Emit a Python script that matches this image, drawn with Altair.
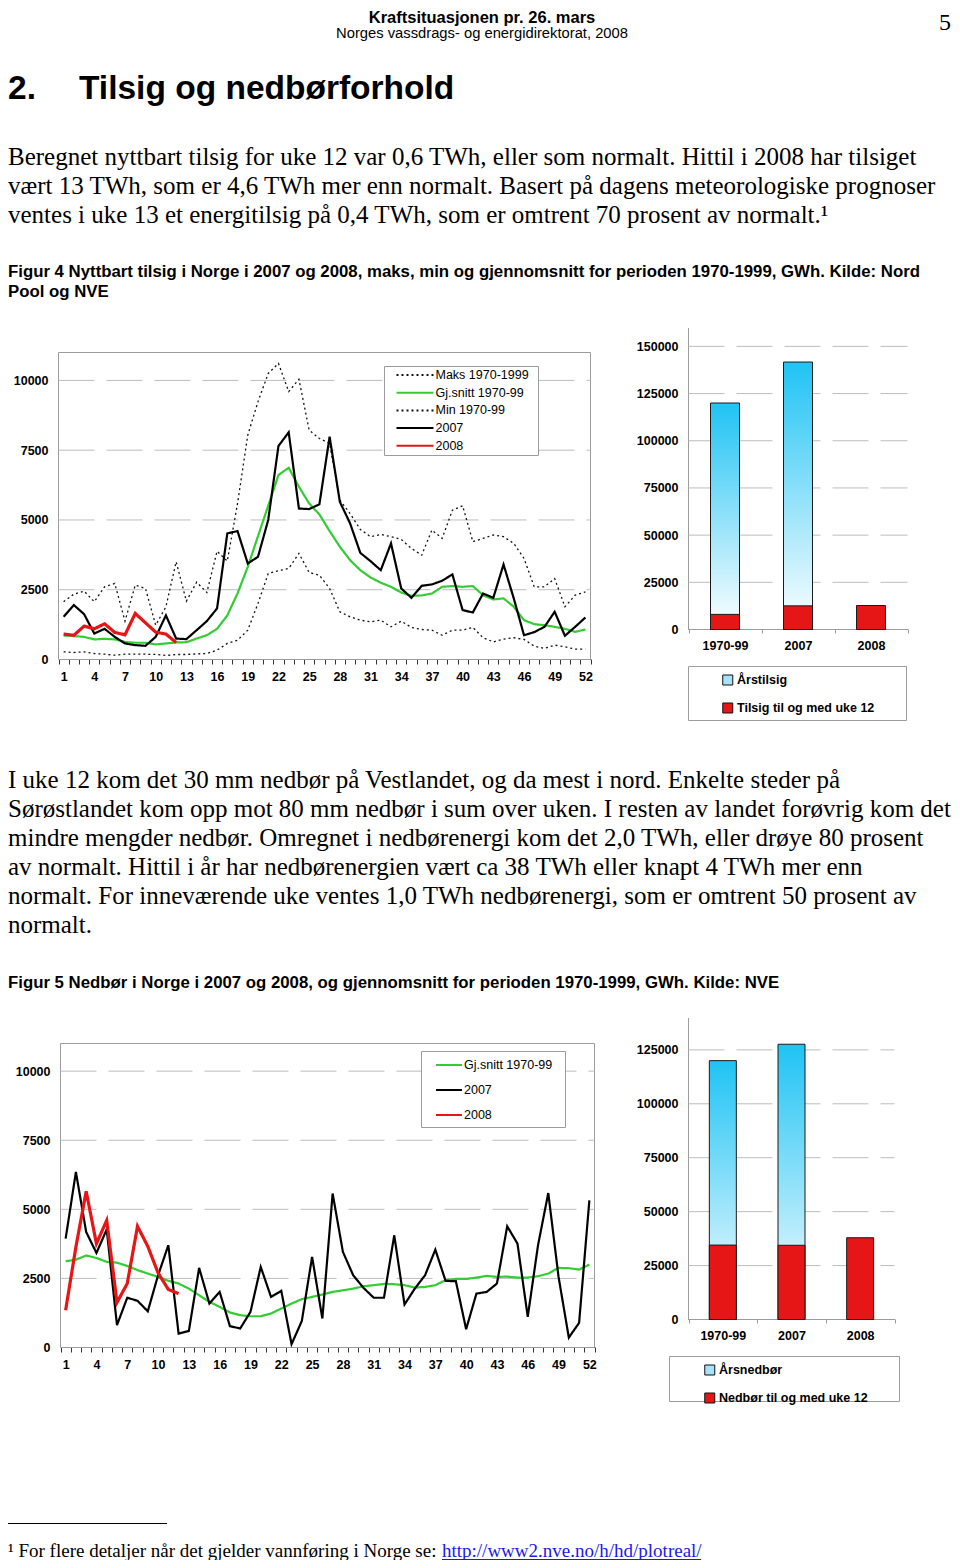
import altair as alt
import pandas as pd

# ------------------------------------------------------------------ data
weeks = list(range(1, 53))
week_labels = [1, 4, 7, 10, 13, 16, 19, 22, 25, 28, 31, 34, 37, 40, 43, 46, 49, 52]
line_y_ticks = [0, 2500, 5000, 7500, 10000]

tilsig_names = ["Maks 1970-1999", "Gj.snitt 1970-99", "Min 1970-99", "2007", "2008"]
tilsig_maks = [2070, 2340, 2450, 2070, 2605, 2725, 1375, 2665, 2545, 1230,
               1890, 3500, 2090, 2770, 2400, 3880, 3525, 5590, 8040, 9240,
               10250, 10610, 9600, 10040, 8220, 7920, 7740, 5710, 5230, 4660,
               4400, 4480, 4400, 4300, 3980, 3740, 4640, 4340, 5350, 5510,
               4220, 4340, 4460, 4400, 4160, 3620, 2605, 2605, 2900, 1890,
               2305, 2425]
tilsig_snitt = [860, 840, 810, 720, 740, 720, 630, 600, 600, 540,
                575, 610, 620, 750, 870, 1100, 1580, 2370, 3320, 4420,
                5510, 6610, 6870, 6190, 5590, 5200, 4600, 4040, 3560, 3200,
                2940, 2750, 2605, 2400, 2280, 2295, 2365, 2605, 2630, 2605,
                2630, 2305, 2150, 2190, 1890, 1410, 1265, 1230, 1170, 1100,
                990, 1075]
tilsig_min = [275, 250, 275, 215, 190, 155, 190, 190, 190, 180,
              145, 180, 180, 200, 215, 335, 575, 690, 1050, 2010,
              3080, 3180, 3260, 3800, 3120, 3020, 2545, 1710, 1530, 1410,
              1350, 1410, 1170, 1375, 1150, 1075, 1050, 870, 1050, 1050,
              1150, 780, 630, 730, 780, 720, 480, 395, 515, 455,
              370, 370]
tilsig_2007 = [1530, 1950, 1625, 930, 1100, 810, 575, 515, 490, 810,
               1580, 750, 730, 1050, 1375, 1830, 4520, 4600, 3440, 3680,
               5000, 7650, 8140, 5410, 5390, 5560, 7980, 5650, 4880, 3820,
               3525, 3200, 4160, 2545, 2210, 2640, 2690, 2820, 3050, 1770,
               1685, 2365, 2210, 3405, 2190, 870, 980, 1170, 1710, 850,
               1170, 1505]
tilsig_2008 = [910, 870, 1195, 1100, 1280, 970, 885, 1650, 1315, 980, 910, 610]

nedbor_names = ["Gj.snitt 1970-99", "2007", "2008"]
nedbor_snitt = [3120, 3180, 3330, 3240, 3100, 3070, 2950, 2800, 2675, 2555,
                2410, 2315, 2130, 1890, 1650, 1470, 1265, 1170, 1130, 1130,
                1230, 1410, 1590, 1750, 1830, 1915, 2010, 2070, 2130, 2215,
                2255, 2300, 2290, 2255, 2170, 2190, 2255, 2435, 2480, 2480,
                2530, 2590, 2555, 2565, 2530, 2530, 2580, 2675, 2880, 2870,
                2820, 3000]
nedbor_2007 = [3940, 6350, 4180, 3420, 4270, 810, 1800, 1690, 1310, 2610,
               3700, 505, 600, 2880, 1590, 2010, 770, 690, 1290, 2915,
               1830, 2050, 120, 960, 3280, 1050, 5570, 3460, 2615, 2160,
               1800, 1800, 4060, 1555, 2130, 2615, 3540, 2410, 2400, 660,
               1950, 2010, 2315, 4385, 3760, 1110, 3700, 5590, 2555, 360,
               890, 5325]
nedbor_2008 = [1350, 3640, 5650, 3760, 4600, 1630, 2315, 4385, 3660, 2700, 2100, 1950]

bar_categories = ["1970-99", "2007", "2008"]
tilsig_aarlig = [120000, 141700, None]
tilsig_uke12 = [8000, 12540, 12720]
nedbor_aarlig = [120000, 127600, None]
nedbor_uke12 = [34500, 34400, 37900]
tilsig_bar_ticks = [0, 25000, 50000, 75000, 100000, 125000, 150000]
nedbor_bar_ticks = [0, 25000, 50000, 75000, 100000, 125000]
tilsig_bar_legend = ["Årstilsig", "Tilsig til og med uke 12"]
nedbor_bar_legend = ["Årsnedbør", "Nedbør til og med uke 12"]

# ------------------------------------------------------------------ style
W, H = 944, 1552
SANS = "Liberation Sans, Arial, Helvetica, sans-serif"
SERIF = "Liberation Serif, Times New Roman, serif"
GREEN = "#33CC33"
RED = "#E61616"
BLUE_TOP = "#1FC3F4"
LIGHT_BLUE = "#A6E3F8"
GRID = "#BDBDBD"
FRAME = "#9C9C9C"
GRID_DASH = [36, 12]
DOT = [2, 3]
SOLID = [1, 0]

AX_LAB = dict(labelFont=SANS, labelFontSize=12.5, labelFontWeight="bold",
              labelColor="#000000", labelFlush=False, labelOverlap=False)

blank = pd.DataFrame({"k": [0]})
layers = []


def text(s, x, y, size, font=SERIF, weight="normal", color="#000000",
         align="left", line_height=None):
    props = dict(text=s, align=align, baseline="alphabetic", font=font,
                 fontSize=size, fontWeight=weight, color=color)
    if line_height is not None:
        props["lineHeight"] = line_height
    return alt.Chart(blank).mark_text(**props).encode(x=alt.value(x), y=alt.value(y))


def box(x0, y0, x1, y1):
    return alt.Chart(blank).mark_rect(fill="#FFFFFF", stroke=FRAME, strokeWidth=1).encode(
        x=alt.value(x0), x2=alt.value(x1), y=alt.value(y0), y2=alt.value(y1))


def line_panel(names, arrays, colors, dashes, widths, xr, yr, leg_xy, sym_len,
               row_pad, box_xy):
    xsc = alt.Scale(domain=[0.5, 52.5], range=xr, nice=False, zero=False)
    ysc = alt.Scale(domain=[0, 11000], range=yr, nice=False, zero=False)
    x_off = (yr[0] - 0.5) - H
    out = []
    frame_df = pd.DataFrame({"x0": [0.5], "x1": [52.5], "y0": [0], "y1": [11000]})
    out.append(alt.Chart(frame_df).mark_rect(fillOpacity=0, stroke=FRAME, strokeWidth=1).encode(
        x=alt.X("x0:Q", scale=xsc, axis=None), x2="x1:Q",
        y=alt.Y("y0:Q", scale=ysc, axis=None), y2="y1:Q"))
    grid_df = pd.DataFrame({"v": line_y_ticks[1:], "x0": 0.5, "x1": 52.5})
    half = [w - 0.5 for w in weeks] + [52.5]
    out.append(alt.Chart(grid_df).mark_rule(color=GRID, strokeWidth=1, strokeDash=GRID_DASH).encode(
        x=alt.X("x0:Q", scale=xsc,
                axis=alt.Axis(orient="bottom", offset=x_off, values=half, labels=False,
                              ticks=True, tickSize=5, tickColor="#333333", domain=True,
                              domainColor="#333333", grid=False, title=None)),
        x2="x1:Q",
        y=alt.Y("v:Q", scale=ysc,
                axis=alt.Axis(orient="left", offset=-(xr[0] - 0.5), values=line_y_ticks,
                              format="d", domain=False, ticks=False, labelPadding=10,
                              grid=False, title=None, **AX_LAB))))
    out.append(box(*box_xy))
    rows = []
    for name, arr, w in zip(names, arrays, widths):
        for wk, v in zip(weeks, arr):
            rows.append({"week": wk, "value": v, "series": name, "w": w})
    df = pd.DataFrame(rows)
    leg = alt.Legend(orient="none", legendX=leg_xy[0], legendY=leg_xy[1], title=None,
                     direction="vertical", symbolType="stroke", symbolSize=sym_len * sym_len,
                     symbolStrokeWidth=2, clipHeight=13, rowPadding=row_pad, padding=0,
                     labelOffset=1, labelFont=SANS, labelFontSize=12.5, labelColor="#000000")
    out.append(alt.Chart(df).mark_line().encode(
        x=alt.X("week:Q", scale=xsc,
                axis=alt.Axis(orient="bottom", offset=x_off, values=week_labels, format="d",
                              ticks=False, domain=False, labelPadding=11, grid=False,
                              title=None, **AX_LAB)),
        y=alt.Y("value:Q", scale=ysc, axis=None),
        color=alt.Color("series:N", scale=alt.Scale(domain=names, range=colors), legend=leg),
        strokeDash=alt.StrokeDash("series:N", scale=alt.Scale(domain=names, range=dashes), legend=leg),
        strokeWidth=alt.StrokeWidth("w:Q", scale=None, legend=None)))
    return out


def bar_panel(aarlig, uke12, ticks, ymax, xr, yr, size, leg_labels, leg_xy, box_xy):
    xsc = alt.Scale(domain=bar_categories, range=xr, paddingInner=0, paddingOuter=0)
    ysc = alt.Scale(domain=[0, ymax], range=yr, nice=False, zero=False)
    out = [box(*box_xy)]
    grid_df = pd.DataFrame({"v": ticks[1:]})
    out.append(alt.Chart(grid_df).mark_rule(color=GRID, strokeWidth=1, strokeDash=GRID_DASH).encode(
        x=alt.value(xr[0]), x2=alt.value(xr[1]),
        y=alt.Y("v:Q", scale=ysc,
                axis=alt.Axis(orient="left", offset=-(xr[0] - 0.5), values=ticks, format="d",
                              domain=True, domainColor=FRAME, ticks=False, labelPadding=10,
                              grid=False, title=None, **AX_LAB))))
    aar_df = pd.DataFrame({"kat": [c for c, v in zip(bar_categories, aarlig) if v is not None],
                           "v": [v for v in aarlig if v is not None]})
    grad = alt.LinearGradient(gradient="linear",
                              stops=[alt.GradientStop(offset=0, color=BLUE_TOP),
                                     alt.GradientStop(offset=1, color="#FFFFFF")],
                              x1=0, x2=0, y1=0, y2=1)
    out.append(alt.Chart(aar_df).mark_bar(size=size, color=grad, stroke="#1A1A1A", strokeWidth=1).encode(
        x=alt.X("kat:N", scale=xsc,
                axis=alt.Axis(orient="bottom", offset=(yr[0] - 0.5) - H, tickBand="extent",
                              ticks=True, tickSize=4, tickColor=FRAME, domainColor=FRAME,
                              labelAngle=0, labelPadding=6, grid=False, title=None, **AX_LAB)),
        y=alt.Y("v:Q", scale=ysc, axis=None)))
    u_df = pd.DataFrame({"kat": bar_categories, "v": uke12, "type": leg_labels[1]})
    leg = alt.Legend(orient="none", legendX=leg_xy[0], legendY=leg_xy[1], title=None,
                     direction="vertical", symbolType="square", symbolSize=100,
                     symbolStrokeColor="#111111", symbolStrokeWidth=1, clipHeight=12,
                     rowPadding=15, padding=0, labelOffset=3, labelFont=SANS,
                     labelFontSize=12.5, labelFontWeight="bold", labelColor="#000000")
    out.append(alt.Chart(u_df).mark_bar(size=size, stroke="#1A1A1A", strokeWidth=1).encode(
        x=alt.X("kat:N", scale=xsc, axis=None),
        y=alt.Y("v:Q", scale=ysc, axis=None),
        color=alt.Color("type:N", scale=alt.Scale(domain=leg_labels, range=[LIGHT_BLUE, RED]),
                        legend=leg)))
    return out


# ------------------------------------------------------------------ page text
layers.append(text("Kraftsituasjonen pr. 26. mars", 474, 15, 16.5, SANS, "bold", align="center"))
layers.append(text("Norges vassdrags- og energidirektorat, 2008", 474, 30, 14.75, SANS, align="center"))
layers.append(text("5", 943, 22, 24, SERIF, align="right"))
layers.append(text("2.", 0, 91, 33.5, SANS, "bold"))
layers.append(text("Tilsig og nedbørforhold", 71, 91, 33.5, SANS, "bold"))
layers.append(text([
    "Beregnet nyttbart tilsig for uke 12 var 0,6 TWh, eller som normalt. Hittil i 2008 har tilsiget",
    "vært 13 TWh, som er 4,6 TWh mer enn normalt. Basert på dagens meteorologiske prognoser",
    "ventes i uke 13 et energitilsig på 0,4 TWh, som er omtrent 70 prosent av normalt.¹",
], 0, 157, 25, line_height=29))
layers.append(text([
    "Figur 4 Nyttbart tilsig i Norge i 2007 og 2008, maks, min og gjennomsnitt for perioden 1970-1999, GWh. Kilde: Nord",
    "Pool og NVE",
], 0, 269, 16.8, SANS, "bold", line_height=20))
layers.append(text([
    "I uke 12 kom det 30 mm nedbør på Vestlandet, og da mest i nord. Enkelte steder på",
    "Sørøstlandet kom opp mot 80 mm nedbør i sum over uken. I resten av landet forøvrig kom det",
    "mindre mengder nedbør. Omregnet i nedbørenergi kom det 2,0 TWh, eller drøye 80 prosent",
    "av normalt. Hittil i år har nedbørenergien vært ca 38 TWh eller knapt 4 TWh mer enn",
    "normalt. For inneværende uke ventes 1,0 TWh nedbørenergi, som er omtrent 50 prosent av",
    "normalt.",
], 0, 780, 25, line_height=29))
layers.append(text("Figur 5 Nedbør i Norge i 2007 og 2008, og gjennomsnitt for perioden 1970-1999, GWh. Kilde: NVE",
                   0, 980, 16.8, SANS, "bold"))
layers.append(alt.Chart(blank).mark_rule(color="#000000", strokeWidth=1).encode(
    x=alt.value(0), x2=alt.value(159), y=alt.value(1515.5)))
layers.append(text("¹ For flere detaljer når det gjelder vannføring i Norge se:", 0, 1549, 19))
layers.append(text("http://www2.nve.no/h/hd/plotreal/", 434, 1549, 19, color="#1A1AE6"))
layers.append(alt.Chart(blank).mark_rule(color="#1A1AE6", strokeWidth=1).encode(
    x=alt.value(434), x2=alt.value(693), y=alt.value(1551.5)))

# ------------------------------------------------------------------ charts
layers += line_panel(
    tilsig_names, [tilsig_maks, tilsig_snitt, tilsig_min, tilsig_2007, tilsig_2008],
    ["#111111", GREEN, "#111111", "#000000", RED],
    [DOT, SOLID, DOT, SOLID, SOLID], [1.3, 2.2, 1.3, 2.2, 3.2],
    [50.5, 582.5], [651.5, 344.5], (387.5, 360.5), 37, 4.7,
    (376.5, 358.5, 530.5, 447.5))
layers += bar_panel(tilsig_aarlig, tilsig_uke12, tilsig_bar_ticks, 160000,
                    [680.5, 899.5], [621.5, 319.5], 29, tilsig_bar_legend,
                    (713.5, 666), (680.5, 658.5, 898.5, 712.5))
layers += line_panel(
    nedbor_names, [nedbor_snitt, nedbor_2007, nedbor_2008],
    [GREEN, "#000000", RED], [SOLID, SOLID, SOLID], [2.2, 2.2, 3.2],
    [52.5, 586.5], [1339.5, 1035.5], (427, 1050.5), 26, 12,
    (413.5, 1043.5, 557.5, 1119.5))
layers += bar_panel(nedbor_aarlig, nedbor_uke12, nedbor_bar_ticks, 140000,
                    [680.5, 886.5], [1311.5, 1009.5], 27, nedbor_bar_legend,
                    (695.5, 1356), (661.5, 1348.5, 891.5, 1393.5))

chart = alt.layer(*layers).resolve_scale(
    x="independent", y="independent", color="independent",
    strokeDash="independent", strokeWidth="independent"
).properties(
    width=W, height=H, padding=0, background="#FFFFFF",
    autosize=alt.AutoSizeParams(type="none")
).configure_view(strokeWidth=0)

chart.save("out.html", embed_options={"renderer": "svg", "actions": False})
